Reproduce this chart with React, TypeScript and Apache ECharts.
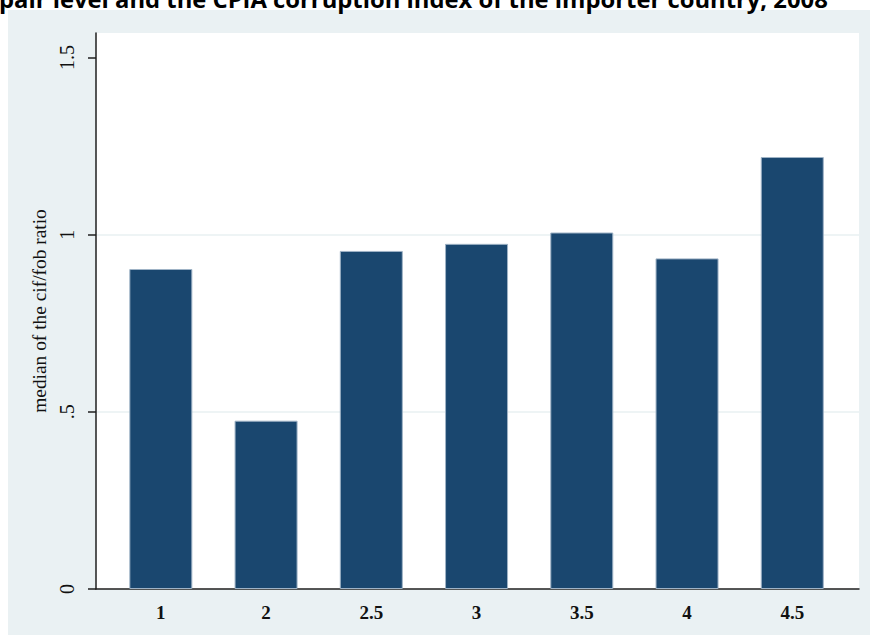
import React, { useEffect, useRef } from "react";
import * as echarts from "echarts";

// CPIA corruption index categories (importer country) and the median cif/fob ratio in each
const categories: string[] = ["1", "2", "2.5", "3", "3.5", "4", "4.5"];
const medianRatio: number[] = [0.903, 0.475, 0.954, 0.974, 1.006, 0.933, 1.219];
const yTicks: number[] = [0, 0.5, 1, 1.5];
const yTickLabels: string[] = ["0", ".5", "1", "1.5"];

const titleText = "pair level and the CPIA corruption index of the importer country, 2008";

export default function App() {
  const ref = useRef<HTMLDivElement>(null);

  useEffect(() => {
    if (!ref.current) return;
    const chart = echarts.init(ref.current, undefined, { renderer: "svg" });
    const positions = categories.map((_, i) => i + 1);

    chart.setOption({
      animation: false,
      backgroundColor: "#ffffff",
      graphic: [
        {
          type: "rect",
          z: -10,
          silent: true,
          shape: { x: 8, y: 10, width: 870, height: 625 },
          style: { fill: "#eaf1f3" },
        },
        {
          type: "text",
          x: -1,
          y: 11,
          z: 10,
          style: {
            text: titleText,
            fill: "#000000",
            font: "bold 23.8px 'Open Sans'",
            textVerticalAlign: "bottom",
          },
        },
      ],
      grid: {
        left: 96,
        right: 11,
        top: 33,
        bottom: 48,
        show: true,
        backgroundColor: "#ffffff",
        borderWidth: 0,
      },
      xAxis: {
        type: "value",
        min: 0.384,
        max: 7.634,
        axisLine: { show: true, lineStyle: { color: "#1f1f1f", width: 1.5 } },
        axisTick: { show: false },
        splitLine: { show: false },
        axisLabel: {
          customValues: positions,
          formatter: (v: number) => categories[Math.round(v) - 1] ?? "",
          margin: 14,
          color: "#111111",
          fontFamily: "Liberation Serif",
          fontWeight: "bold",
          fontSize: 19,
        },
      },
      yAxis: {
        type: "value",
        min: 0,
        max: 1.569,
        interval: 0.5,
        name: "median of the cif/fob ratio",
        nameLocation: "middle",
        nameGap: 44,
        nameTextStyle: {
          fontFamily: "Liberation Serif",
          fontSize: 19.4,
          color: "#111111",
        },
        axisLine: { show: true, lineStyle: { color: "#1f1f1f", width: 1.5 } },
        axisTick: {
          show: true,
          length: 8,
          customValues: yTicks,
          lineStyle: { color: "#1f1f1f", width: 1.5 },
        },
        splitLine: {
          show: true,
          showMinLine: false,
          showMaxLine: false,
          lineStyle: { color: "#e8f0f2", width: 1.5 },
        },
        axisLabel: {
          customValues: yTicks,
          rotate: 90,
          margin: 19,
          formatter: (v: number) => yTickLabels[yTicks.indexOf(v)] ?? "",
          color: "#111111",
          fontFamily: "Liberation Serif",
          fontSize: 20,
        },
      },
      series: [
        {
          type: "bar",
          barWidth: 63,
          data: positions.map((p, i) => [p, medianRatio[i]]),
          itemStyle: {
            color: "#1a476f",
            borderColor: "#9fb3c6",
            borderWidth: 1,
          },
        },
      ],
    });

    return () => chart.dispose();
  }, []);

  return (
    <div
      ref={ref}
      style={{ position: "fixed", left: 0, top: 0, width: 870, height: 637 }}
    />
  );
}
